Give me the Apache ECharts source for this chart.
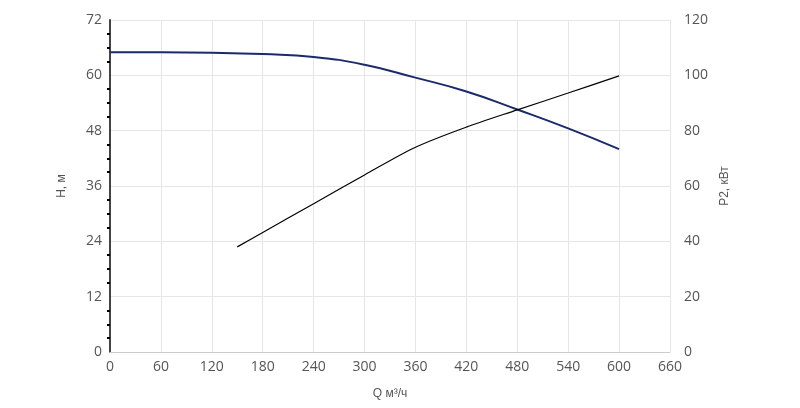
<!DOCTYPE html><html><head><meta charset="utf-8"><script src="https://cdn.jsdelivr.net/npm/echarts@6/dist/echarts.min.js"></script></head><body style="margin:0"><div id="c" style="width:800px;height:408px"></div><script>
const hQ=[0,60,120,180,240,300,360,420,480,540,600];
const hV=[65,65,64.9,64.6,64,62.3,59.5,56.5,52.6,48.5,44];
const pQ=[150,180,240,300,360,420,480,540,600];
const pV=[38,43.2,53.6,64,74,81.3,87.5,93.6,99.8];
const c=echarts.init(document.getElementById('c'));
const lab={color:'#555',fontSize:14,fontFamily:'Open Sans'};
c.setOption({animation:false,grid:{left:110,right:130,top:20,bottom:56},
xAxis:{type:'value',min:0,max:660,interval:60,name:'Q м³/ч',nameLocation:'middle',nameGap:36,nameTextStyle:{color:'#555',fontSize:12},axisLabel:lab,axisLine:{lineStyle:{color:'#ccc'}},axisTick:{show:false},splitLine:{lineStyle:{color:'#e6e6e6'}}},
yAxis:[{type:'value',min:0,max:72,interval:12,name:'H, м',nameLocation:'middle',nameGap:42,nameTextStyle:{color:'#555',fontSize:12},axisLabel:lab,axisLine:{show:true,lineStyle:{color:'#444',width:2}},axisTick:{show:false},minorTick:{show:true,splitNumber:4,length:3,lineStyle:{color:'#000',width:2}},splitLine:{lineStyle:{color:'#e6e6e6'}}},
{type:'value',min:0,max:120,interval:20,name:'P2, кВт',nameLocation:'middle',nameGap:48,nameTextStyle:{color:'#555',fontSize:12},axisLabel:Object.assign({margin:14},lab),axisLine:{show:false},axisTick:{show:false},splitLine:{show:false}}],
series:[{type:'line',smooth:true,symbol:'none',data:hQ.map((q,i)=>[q,hV[i]]),lineStyle:{color:'#1a2a6c',width:2}},
{type:'line',smooth:0.3,symbol:'none',yAxisIndex:1,data:pQ.map((q,i)=>[q,pV[i]]),lineStyle:{color:'#000',width:1.2}}]});
</script></body></html>
